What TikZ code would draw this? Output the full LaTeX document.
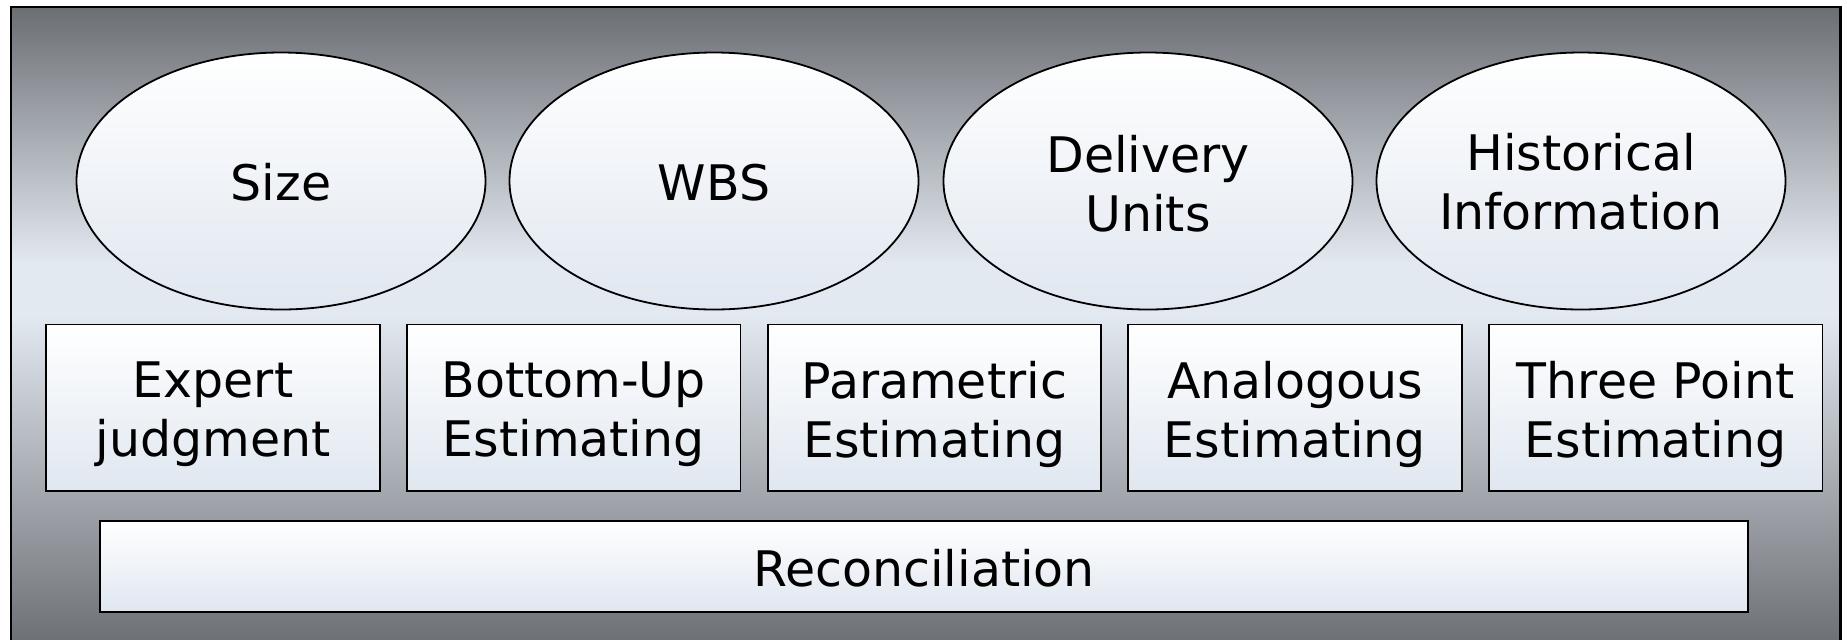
\documentclass[tikz,border=0pt]{standalone}
\usepackage{fontspec}
\setmainfont{DejaVu Sans}
\usetikzlibrary{shapes.geometric}
\definecolor{bgdark}{HTML}{6B6E73}
\definecolor{bglight}{HTML}{E3E9F1}
\definecolor{fillbot}{HTML}{E0E7F0}
\pgfdeclareverticalshading{bgshade}{100bp}{color(0bp)=(bgdark); color(25bp)=(bgdark); color(51bp)=(bglight); color(55bp)=(bglight); color(75bp)=(bgdark); color(100bp)=(bgdark)}
\tikzset{
  lbl/.style={align=center, text=black, font=\fontsize{24.5}{29.5}\selectfont, inner sep=0pt},
  oval/.style={ellipse, draw=black, line width=0.9pt, inner sep=0pt,
    minimum width=204.5pt, minimum height=128.5pt, top color=white, bottom color=fillbot},
  methodbox/.style={rectangle, draw=black, line width=0.9pt, inner sep=0pt,
    minimum width=166.7pt, minimum height=83.3pt, top color=white, bottom color=fillbot},
  reconbox/.style={rectangle, draw=black, line width=0.9pt, inner sep=0pt,
    minimum width=824.3pt, minimum height=45.3pt, top color=white, bottom color=fillbot},
}
\begin{document}
\begin{tikzpicture}[x=0.5pt, y=-0.5pt]
\useasboundingbox (0,0) rectangle (1847,639);
\clip (0,0) rectangle (1847,639);
\path[draw=black, line width=1.1pt, shading=bgshade]
  (11,7) rectangle (1840.5,648);
\node[oval, label={[lbl, yshift=-0.8pt]center:Size}] (size) at (281,181) {};
\node[oval, label={[lbl, yshift=-0.8pt]center:WBS}] (wbs) at (714,181) {};
\node[oval, label={[lbl, yshift=-1.2pt]center:Delivery\\Units}] (delivery) at (1148,181) {};
\node[oval, label={[lbl, yshift=-0.6pt]center:Historical\\Information}] (hist) at (1581,181) {};
\node[methodbox, label={[lbl, yshift=-3.2pt]center:Expert\\judgment}] (expert) at (213,407.7) {};
\node[methodbox, label={[lbl, yshift=-3.2pt]center:Bottom-Up\\Estimating}] (bottomup) at (573.7,407.7) {};
\node[methodbox, label={[lbl, yshift=-3.2pt]center:Parametric\\Estimating}] (param) at (934.3,407.7) {};
\node[methodbox, label={[lbl, yshift=-3.2pt]center:Analogous\\Estimating}] (analog) at (1295,407.7) {};
\node[methodbox, label={[lbl, yshift=-3.2pt]center:Three Point\\Estimating}] (three) at (1655.7,407.7) {};
\node[reconbox, label={[lbl, yshift=-1pt]center:Reconciliation}] (recon) at (924,566.3) {};
\end{tikzpicture}
\end{document}
